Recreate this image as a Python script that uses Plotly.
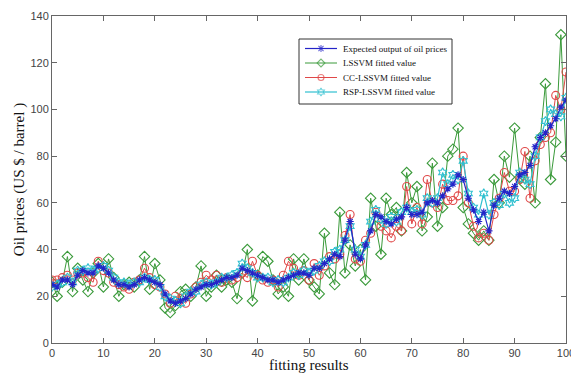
import plotly.graph_objects as go

x = list(range(101))

expected = [25, 24, 27, 27, 25, 29, 31, 30, 30, 33, 32, 30, 27, 25, 25, 24, 25, 27, 28, 27,
            26, 25, 21, 18, 17, 18, 19, 21, 23, 24, 25, 25, 26, 27, 28, 28, 29, 32, 31, 30,
            29, 28, 27, 27, 26, 27, 28, 29, 30, 30, 29, 32, 32, 34, 36, 38, 37, 44, 52, 38,
            36, 42, 48, 55, 54, 52, 51, 53, 54, 58, 55, 55, 56, 60, 61, 60, 63, 66, 68, 72,
            70, 62, 57, 52, 56, 48, 59, 62, 65, 64, 67, 72, 73, 76, 84, 88, 90, 93, 96, 101, 104]

lssvm = [26, 20, 26, 37, 22, 32, 27, 22, 30, 34, 24, 36, 28, 20, 25, 26, 24, 27, 37, 23,
         34, 27, 15, 13, 16, 22, 23, 20, 24, 33, 20, 24, 29, 24, 27, 26, 19, 30, 40, 18,
         29, 37, 35, 27, 21, 24, 20, 36, 27, 36, 27, 24, 21, 47, 30, 25, 56, 30, 42, 33,
         40, 27, 62, 50, 38, 62, 55, 58, 48, 73, 60, 67, 48, 54, 77, 50, 58, 80, 83, 92,
         58, 51, 47, 44, 48, 44, 70, 60, 80, 71, 92, 71, 68, 80, 60, 88, 111, 70, 86, 132, 80]

cc_lssvm = [27, 27, 28, 29, 27, 30, 30, 28, 26, 35, 31, 30, 26, 25, 24, 23, 26, 27, 32, 28,
            25, 24, 21, 17, 20, 19, 17, 21, 24, 26, 29, 27, 29, 26, 28, 27, 28, 30, 28, 35,
            29, 27, 26, 27, 24, 29, 35, 32, 29, 31, 27, 34, 29, 33, 37, 36, 38, 46, 55, 36,
            35, 44, 47, 56, 50, 48, 45, 50, 48, 67, 51, 58, 51, 70, 60, 58, 68, 61, 61, 63,
            80, 60, 50, 45, 47, 44, 55, 62, 73, 65, 65, 70, 82, 62, 78, 85, 88, 90, 106, 100, 116]

rsp_lssvm = [24, 25, 26, 28, 26, 31, 31, 32, 31, 32, 33, 31, 28, 26, 26, 25, 26, 26, 28, 27,
             27, 24, 20, 19, 18, 17, 20, 22, 22, 25, 26, 25, 26, 28, 28, 29, 30, 34, 32, 30,
             28, 28, 28, 26, 27, 26, 28, 30, 29, 31, 30, 31, 33, 35, 35, 39, 40, 44, 50, 40,
             37, 42, 52, 57, 53, 51, 54, 52, 56, 58, 56, 57, 55, 62, 60, 62, 73, 68, 72, 70,
             78, 64, 58, 55, 64, 55, 60, 59, 64, 60, 62, 73, 70, 68, 80, 88, 95, 100, 98, 97, 105]

names = ["Expected output of oil prices", "LSSVM fitted value",
         "CC-LSSVM fitted value", "RSP-LSSVM fitted value"]
x_title = "fitting results"
y_title = "Oil prices (US $ / barrel )"

colors = ["#2424c8", "#3a9a3a", "#e04848", "#30c0d0"]
symbols = ["asterisk-open", "diamond-open", "circle-open", "hexagram-open"]
msizes = [6, 8, 8, 7]
leg_msizes = [6, 6, 6, 6]
lwidths = [1.2, 1, 1, 1.2]
series = [expected, lssvm, cc_lssvm, rsp_lssvm]

fig = go.Figure()
# draw order: green, red, cyan, blue (blue on top)
for i in [1, 2, 3, 0]:
    fig.add_trace(go.Scatter(
        x=x, y=series[i], name=names[i], mode="lines+markers", showlegend=False,
        line=dict(color=colors[i], width=lwidths[i]),
        marker=dict(symbol=symbols[i], size=msizes[i], color=colors[i],
                    line=dict(width=1.1, color=colors[i]))))

# manual legend on an overlay axis measured in page pixels
leg_left, leg_right, leg_top, leg_bottom = 299, 452, 39, 104
row_y = [48.5, 63, 77.5, 92]
fig.add_shape(type="rect", xref="x2", yref="y2", x0=leg_left, x1=leg_right,
              y0=leg_top, y1=leg_bottom, line=dict(color="#333333", width=1),
              fillcolor="white", layer="below")
for i in range(4):
    fig.add_trace(go.Scatter(
        x=[305, 321, 337], y=[row_y[i]] * 3, xaxis="x2", yaxis="y2",
        mode="lines+markers", showlegend=False, hoverinfo="skip",
        line=dict(color=colors[i], width=lwidths[i]),
        marker=dict(symbol=symbols[i], size=[0, leg_msizes[i], 0], color=colors[i],
                    line=dict(width=1.1, color=colors[i]))))
    fig.add_annotation(x=341, y=row_y[i], xref="x2", yref="y2", text=names[i],
                       showarrow=False, xanchor="left", yanchor="middle",
                       font=dict(family="Liberation Serif, Times New Roman, serif",
                                 size=9, color="#111111"))

title_font = dict(family="Liberation Serif, Times New Roman, serif", size=15, color="#111111")

# x-axis title as an annotation just below the tick labels
fig.add_annotation(x=0.5, y=0, xref="paper", yref="paper", text=x_title,
                   showarrow=False, xanchor="center", yanchor="top", yshift=-13,
                   borderpad=0, font=title_font)

axis_common = dict(showgrid=False, zeroline=False, showline=True, linecolor="#666666", linewidth=1,
                   mirror="ticks", ticks="inside", ticklen=5, tickcolor="#666666",
                   ticklabeloverflow="allow", automargin=False,
                   tickfont=dict(family="Liberation Sans, Arial, sans-serif", size=11, color="#444444"))

fig.update_layout(
    width=571, height=373,
    margin=dict(l=52, r=5, t=16, b=30, autoexpand=False),
    paper_bgcolor="white", plot_bgcolor="white",
    xaxis=dict(range=[0, 100], dtick=10, tick0=0, **axis_common),
    yaxis=dict(range=[0, 140], dtick=20, tick0=0,
               title=dict(text=y_title, standoff=2, font=title_font),
               **axis_common),
    xaxis2=dict(overlaying="x", range=[52, 566], visible=False, fixedrange=True, automargin=False),
    yaxis2=dict(overlaying="y", range=[343, 16], visible=False, fixedrange=True, automargin=False),
    showlegend=False,
)

fig.write_html("out.html")
